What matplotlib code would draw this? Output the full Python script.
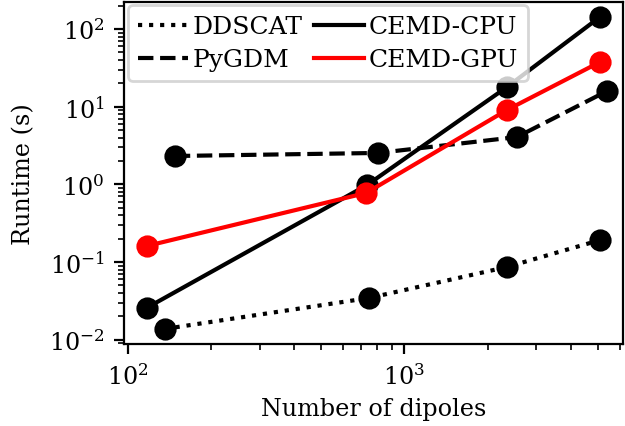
import matplotlib
matplotlib.use("Agg")
import matplotlib.pyplot as plt
from matplotlib.lines import Line2D

plt.rcParams['font.family'] = ['DejaVu Serif']
plt.rcParams['font.size'] = 8.6
plt.rcParams['mathtext.fontset'] = 'dejavuserif'

# Data
dd_x = [136, 745, 2350, 5100]
dd_y = [0.0138, 0.0345, 0.0865, 0.192]

py_x = [148, 803, 2553, 5408]
py_y = [2.32, 2.54, 4.07, 15.9]

cpu_x = [117, 733, 2350, 5100]
cpu_y = [0.0257, 0.98, 17.9, 143]

gpu_x = [117, 728, 2350, 5100]
gpu_y = [0.161, 0.776, 9.07, 37.6]

fig = plt.figure(figsize=(3.125, 2.135), dpi=200)
ax = fig.add_axes([124/625, 1-345/427, (623-124)/625, (345-2.5)/427])

LW = 1.5
MS = 7
ax.plot(dd_x, dd_y, ':', color='black', lw=LW, marker='o', ms=MS, label='DDSCAT')
ax.plot(py_x, py_y, '--', color='black', lw=LW, marker='o', ms=MS, label='PyGDM')
ax.plot(cpu_x, cpu_y, '-', color='black', lw=LW, marker='o', ms=MS, label='CEMD-CPU')
ax.plot(gpu_x, gpu_y, '-', color='red', lw=LW, marker='o', ms=MS, label='CEMD-GPU')

ax.set_xscale('log')
ax.set_yscale('log')
ax.set_xlim(10**1.9866, 10**3.7907)
ax.set_ylim(10**-2.054, 10**2.354)
ax.set_xlabel('Number of dipoles', labelpad=3)
ax.set_ylabel('Runtime (s)', labelpad=5)

handles, labels = ax.get_legend_handles_labels()
hs = [Line2D([], [], ls=h.get_linestyle(), color=h.get_color(), lw=LW) for h in handles]
ax.legend(hs, labels, ncol=2, loc='upper left', borderaxespad=0.15, fontsize=9,
          handlelength=2.0, columnspacing=0.45, labelspacing=0.4, borderpad=0.4,
          handletextpad=0.2)

fig.savefig('out.png', dpi=200)
